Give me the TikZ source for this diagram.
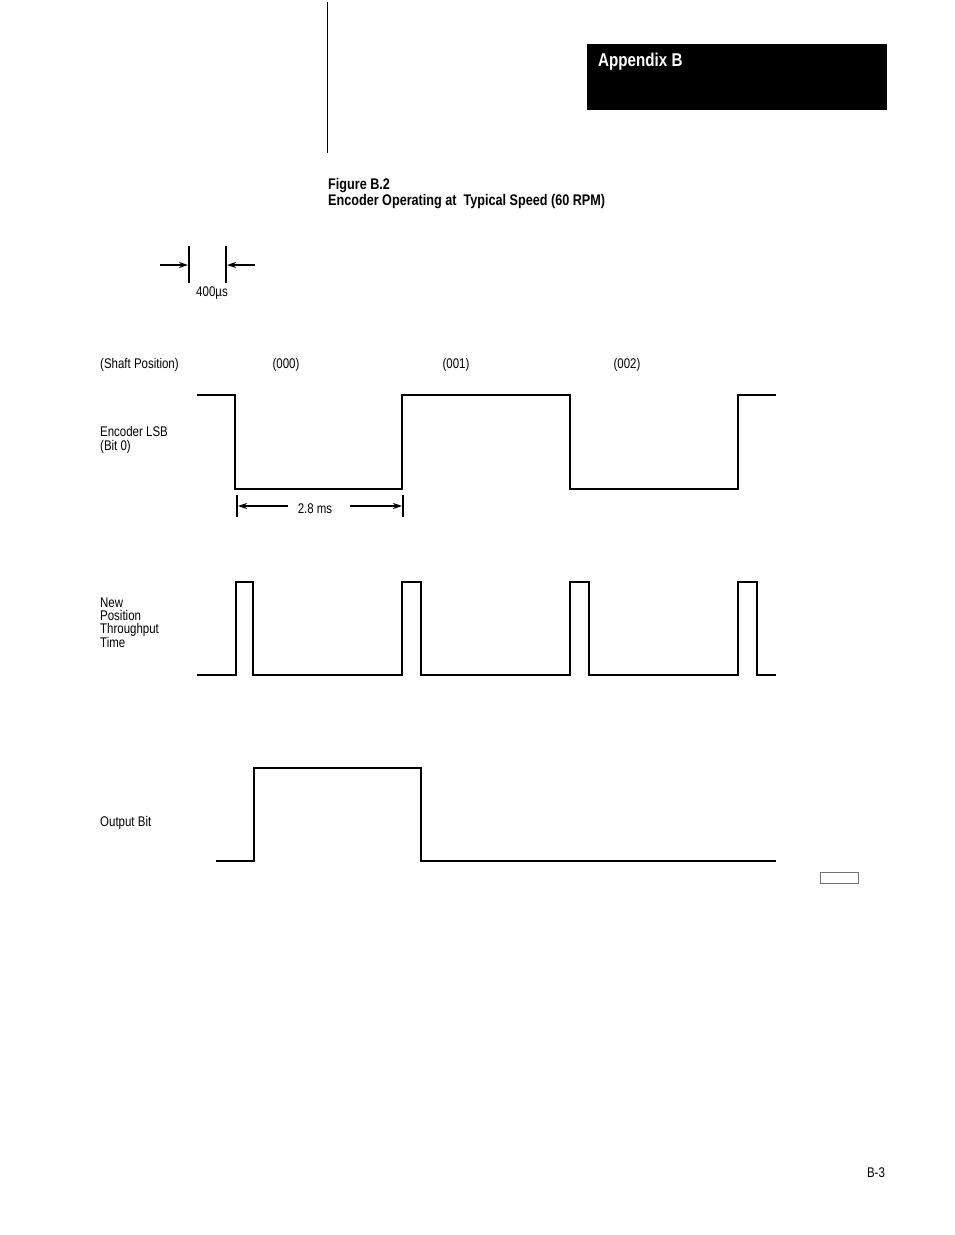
\documentclass[tikz,border=0pt]{standalone}
\usepackage{fontspec}
\setmainfont[FakeStretch=0.82]{Liberation Sans}
\usetikzlibrary{arrows.meta}
\begin{document}
\begin{tikzpicture}[x=1pt,y=-1pt,
  wave/.style={line width=1.8pt,line cap=rect,line join=miter},
  thin/.style={line width=1.3pt},
  lbl/.style={font=\fontsize{14}{13.3}\selectfont,inner sep=0pt,anchor=west},
  clbl/.style={font=\fontsize{14}{13.3}\selectfont,inner sep=0pt},
  dimarrow/.style={line width=1.3pt,-{Stealth[length=9pt,width=6pt]}}]
\useasboundingbox (0,0) rectangle (954,1235);
% header
\draw[line width=1pt] (327,2) -- (327,153);
\fill (587,44) rectangle (887,110);
\node[anchor=west,inner sep=0pt,text=white,font=\fontsize{18.5}{20}\selectfont\bfseries] (hdr) at (598,62) {Appendix B};
\node[anchor=west,inner sep=0pt,font=\fontsize{15.4}{17}\selectfont\bfseries] (fig) at (328,185.5) {Figure B.2};
\node[anchor=west,inner sep=0pt,font=\fontsize{15.4}{17}\selectfont\bfseries] (cap) at (328,201.5) {Encoder Operating at\ \ Typical Speed (60 RPM)};
% 400us marker
\coordinate (m1t) at (189,246); \coordinate (m1b) at (189,283);
\coordinate (m2t) at (226,246); \coordinate (m2b) at (226,283);
\draw[line width=1.8pt] (m1t) -- (m1b);
\draw[line width=1.8pt] (m2t) -- (m2b);
\coordinate (a1s) at (160,265); \coordinate (a1e) at (188,265);
\coordinate (a2s) at (255,265); \coordinate (a2e) at (227,265);
\draw[dimarrow,line width=1.6pt] (a1s) -- (a1e);
\draw[dimarrow,line width=1.6pt] (a2s) -- (a2e);
\node[clbl] (us) at (212,293.5) {400µs};
% labels
\node[lbl] (shaft) at (100,364.5) {(Shaft Position)};
\node[clbl] (p0) at (286,364.5) {(000)};
\node[clbl] (p1) at (456,364.5) {(001)};
\node[clbl] (p2) at (627,364.5) {(002)};
\node[lbl,align=left] (lsb) at (100,440) {Encoder LSB\\(Bit 0)};
\node[lbl,align=left] (npt) at (100,622.5) {New\\Position\\Throughput\\Time};
\node[lbl] (ob) at (100,822.5) {Output Bit};
% Encoder LSB wave
\draw[wave] (198,395) -- (235,395) -- (235,489) -- (402,489) -- (402,395) -- (570,395) -- (570,489) -- (738,489) -- (738,395) -- (775,395);
% 2.8 ms dimension
\draw[thin] (237,495) -- (237,517);
\draw[thin] (403,495) -- (403,517);
\coordinate (b1s) at (288,506); \coordinate (b1e) at (238,506);
\coordinate (b2s) at (350,506); \coordinate (b2e) at (402,506);
\draw[dimarrow] (b1s) -- (b1e);
\draw[dimarrow] (b2s) -- (b2e);
\node[clbl] (ms) at (315,508.5) {2.8 ms};
% New position wave
\draw[wave] (198,675) -- (236,675) -- (236,582) -- (253,582) -- (253,675) -- (402,675) -- (402,582) -- (421,582) -- (421,675) -- (570,675) -- (570,582) -- (589,582) -- (589,675) -- (738,675) -- (738,582) -- (757,582) -- (757,675) -- (775,675);
% Output bit wave
\draw[wave] (217,861) -- (254,861) -- (254,768) -- (421,768) -- (421,861) -- (775,861);
% small box
\draw[line width=1pt,draw=black!55] (820,872) rectangle (858,883);
% page number
\node[clbl] (pg) at (876,1172.5) {B-3};
\end{tikzpicture}
\end{document}
